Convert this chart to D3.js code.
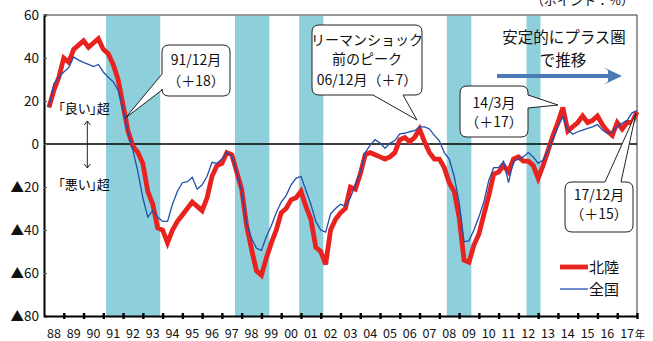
<!DOCTYPE html>
<html><head><meta charset="utf-8">
<script src="https://cdn.jsdelivr.net/npm/d3@7"></script>
<style>
html,body{margin:0;padding:0;background:#fff;}
svg{display:block;font-family:"Noto Sans CJK JP","Noto Sans",sans-serif;}
.palt{font-feature-settings:"palt";}
</style></head>
<body><svg id="c" width="653" height="341"></svg>
<script>
// ---- data (quarterly business conditions DI, 1988 Q1 .. 2017 Q4) ----
const yearLabels = ["88","89","90","91","92","93","94","95","96","97","98","99","00","01","02","03","04","05","06","07","08","09","10","11","12","13","14","15","16","17"];
const hokuriku = [
  17, 25, 31, 40,   38, 44, 46, 48,   45, 47, 49, 44,   42, 37, 30, 18,
  6, -1, -4, -9,    -22, -28, -39, -40, -46, -40, -36, -33, -30, -27, -29, -31,
  -25, -15, -10, -9, -4, -5, -13, -21, -38, -49, -59, -61, -53, -46, -40, -32,
  -30, -26, -25, -22, -29, -35, -48, -50, -56, -40, -35, -32, -30, -20, -21, -14,
  -5, -4, -5, -6,   -7, -6, -4, 2,    3, 1, 3, 7,     1, -4, -7, -7,
  -11, -18, -22, -34, -54, -55, -47, -42, -33, -24, -14, -13, -10, -13, -7, -6,
  -8, -8, -10, -16, -10, -3, 4, 10,  17, 6, 8, 10,   13, 10, 11, 13,
  9, 6, 4, 10,      7, 10, 10, 15
];
const zenkoku = [
  17, 28, 31, 33.5, 35.5, 40.5, 39, 38, 37, 36, 37, 33.5, 31, 29, 25, 16,
  5.5, -3, -13, -25, -34, -31, -34, -36, -36, -28, -22, -18, -17.5, -15.5, -21, -19,
  -15, -8.5, -9, -7, -4, -5.5, -13, -22, -37, -44, -48.5, -49.5, -43, -38, -32, -27,
  -24, -19, -16, -15, -21.5, -28, -36, -40, -41, -32.5, -30, -28, -29, -25, -19, -13,
  -4, -0.5, 2, 0.5, -2, 0.3, 1.6, 4.7, 5, 5.7, 6.2, 8, 8, 7, 4, 1.5,
  -4, -7, -15, -27, -45.5, -45, -40, -34, -27, -17, -11, -11, -8, -18, -8, -7,
  -6, -4, -6, -9, -7.5, -3, 2.5, 8, 12.7, 6.5, 4.5, 5.7, 6.5, 7.3, 8, 9,
  6.5, 5, 5.7, 8, 9.6, 11, 14.5, 15.5
];
const recessions = [[1991.14,1993.88],[1997.66,1999.40],[2000.91,2002.13],[2008.38,2009.62],[2012.41,2013.12]];
const yTicks = [60,40,20,0,-20,-40,-60,-80];
const seriesNames = ["北陸","全国"];

// ---- layout ----
const L = 44, R = 637, T = 15, B = 316;
const FONT = '"Noto Sans CJK JP","Noto Sans",sans-serif';
const svg = d3.select("#c");
const x = d3.scaleLinear().domain([1988, 2018]).range([L, R]);
const y = d3.scaleLinear().domain([-80, 60]).range([B, T]);
const t = i => 1988 + (i + 1) * 0.25;

// recession bands
svg.append("g").selectAll("rect").data(recessions).join("rect")
  .attr("x", d => x(d[0])).attr("width", d => x(d[1]) - x(d[0]))
  .attr("y", T + 1).attr("height", B - T - 1)
  .attr("fill", "#8dcfdb");

// frame top/right
svg.append("path").attr("d", `M${L},${T}H${R}V${B}`).attr("fill","none").attr("stroke","#333").attr("stroke-width",1);

// zero line
svg.append("line").attr("x1", L).attr("x2", R).attr("y1", y(0)).attr("y2", y(0))
  .attr("stroke", "#000").attr("stroke-width", 1.3);

// y axis
const yAxis = d3.axisLeft(y).tickValues(yTicks).tickSize(-3).tickPadding(5)
  .tickFormat(v => v < 0 ? "▲" + (-v) : String(v));
const gy = svg.append("g").attr("transform", `translate(${L},0)`).call(yAxis)
  .attr("font-family", FONT);
gy.select(".domain").attr("stroke","#000").attr("stroke-width",2);
gy.selectAll(".tick line").attr("stroke","#555");
gy.selectAll("text").attr("font-size", 13.5).attr("fill","#111").attr("font-family", FONT);

// x axis
const xAxis = d3.axisBottom(x).tickValues(d3.range(1989, 2019)).tickSize(0).tickFormat("");
const gx = svg.append("g").attr("transform", `translate(0,${B})`).call(xAxis);
gx.select(".domain").attr("stroke","#000").attr("stroke-width",2);
gx.selectAll(".tick").append("rect").attr("x",-1.2).attr("y",-3).attr("width",2.4).attr("height",6).attr("fill","#000");
svg.append("g").selectAll("text").data(yearLabels).join("text")
  .attr("x", (d, i) => x(1988 + i + 0.5)).attr("y", 338)
  .attr("text-anchor","middle").attr("font-size", 12.5).attr("fill","#111").text(d => d);
svg.append("text").attr("x", 640).attr("y", 338).attr("font-size", 10).attr("text-anchor","middle").attr("fill","#111").text("年");
svg.append("text").attr("x", 634).attr("y", 5).attr("font-size", 13).attr("text-anchor","end").attr("fill","#111").text("（ポイント：%）");

// lines
const line = d3.line().x((d, i) => x(t(i))).y(d => y(d));
svg.append("path").datum(hokuriku).attr("d", line).attr("fill","none")
  .attr("stroke","#e8221e").attr("stroke-width",4.8).attr("stroke-linejoin","miter").attr("stroke-miterlimit",3);
svg.append("path").datum(zenkoku).attr("d", line).attr("fill","none")
  .attr("stroke","#1f4fad").attr("stroke-width",1.3);

// good/bad markers
svg.append("text").attr("class","palt").attr("x",84).attr("y",112.5).attr("text-anchor","middle").attr("font-size",13).text("「良い」超");
svg.append("text").attr("class","palt").attr("x",84).attr("y",189).attr("text-anchor","middle").attr("font-size",13).text("「悪い」超");
const ax = 87.3;
svg.append("path").attr("d",`M${ax},121V168M${ax-3},125L${ax},121L${ax+3},125M${ax-3},164L${ax},168L${ax+3},164`)
  .attr("fill","none").attr("stroke","#222").attr("stroke-width",1);

// big arrow + text
svg.append("text").attr("x",564).attr("y",43).attr("text-anchor","middle").attr("font-size",15.5).attr("fill","#111").text("安定的にプラス圏");
svg.append("text").attr("x",563).attr("y",66).attr("text-anchor","middle").attr("font-size",15.5).attr("fill","#111").text("で推移");
svg.append("path").attr("d","M497,74H608V70.5L604,67.5L622,76L604,84.5L608,81.5V78H497Z").attr("fill","#4a7bb7");

// callouts
function bubble(x0,y0,x1,y1,r,side,b1,b2,tip){
  let p = `M${x0+r},${y0}`;
  if (side==="top") p += `L${b1},${y0}L${tip[0]},${tip[1]}L${b2},${y0}`;
  p += `L${x1-r},${y0}Q${x1},${y0} ${x1},${y0+r}`;
  if (side==="right") p += `L${x1},${b1}L${tip[0]},${tip[1]}L${x1},${b2}`;
  p += `L${x1},${y1-r}Q${x1},${y1} ${x1-r},${y1}`;
  if (side==="bottom") p += `L${b2},${y1}L${tip[0]},${tip[1]}L${b1},${y1}`;
  p += `L${x0+r},${y1}Q${x0},${y1} ${x0},${y1-r}`;
  if (side==="left") p += `L${x0},${b2}L${tip[0]},${tip[1]}L${x0},${b1}`;
  p += `L${x0},${y0+r}Q${x0},${y0} ${x0+r},${y0}Z`;
  return p;
}
const callouts = [
  {box:[162,45,230,96], side:"left", b:[74,90], tip:[125.5,118], cx:196, lines:["91/12月","（＋18）"], ly:[65,86]},
  {box:[312,25,422,95], side:"bottom", b:[373,403], tip:[417,120], cx:367, lines:["リーマンショック","前のピーク","06/12月（＋7）"], ly:[45,63.5,85]},
  {box:[460,86,528,137], side:"right", b:[95,108], tip:[558,105], cx:494, lines:["14/3月","（＋17）"], ly:[108,127]},
  {box:[565,182,633,232], side:"top", b:[605,621], tip:[636,113], cx:599, lines:["17/12月","（＋15）"], ly:[200,219]}
];
callouts.forEach(c => {
  const [x0,y0,x1,y1] = c.box;
  svg.append("path").attr("d", bubble(x0,y0,x1,y1,7,c.side,c.b[0],c.b[1],c.tip))
    .attr("fill","#fff").attr("stroke","#222").attr("stroke-width",1);
  c.lines.forEach((s,i) => svg.append("text").attr("x",c.cx).attr("y",c.ly[i])
    .attr("text-anchor","middle").attr("font-size",14).attr("fill","#111").text(s));
});

// legend
const lg = svg.append("g");
[{c:"#e8221e",w:4.8,y:267},{c:"#1f4fad",w:1.3,y:289}].forEach((s,i) => {
  lg.append("line").attr("x1",560).attr("x2",588).attr("y1",s.y).attr("y2",s.y).attr("stroke",s.c).attr("stroke-width",s.w);
  lg.append("text").attr("x",589).attr("y",s.y+5.5).attr("font-size",15).attr("fill","#111").text(seriesNames[i]);
});
</script></body></html>
